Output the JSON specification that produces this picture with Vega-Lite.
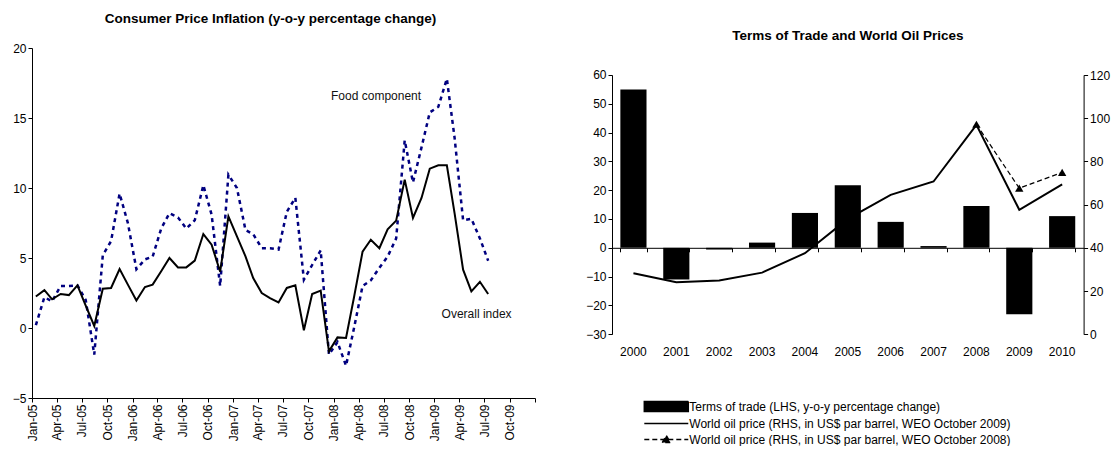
{
  "$schema": "https://vega.github.io/schema/vega-lite/v6.json",
  "padding": {"left": 12, "top": 11, "right": 5, "bottom": 0},
  "spacing": 44,
  "resolve": {"legend": {"shape": "independent", "strokeDash": "independent"}},
  "config": {
    "font": "Liberation Sans",
    "view": {"stroke": null},
    "axis": {"labelFont": "Liberation Sans", "labelFontSize": 12, "labelColor": "#000", "domainColor": "#000", "tickColor": "#000", "grid": false, "tickSize": 4, "labelPadding": 2, "domainWidth": 1, "tickWidth": 1},
    "title": {"fontSize": 13.5, "fontWeight": "bold", "color": "#000", "font": "Liberation Sans"}
  },
  "datasets": {
    "cpi": [
      {"date": "2005-01-15", "overall": 2.25, "food": 0.2},
      {"date": "2005-02-15", "overall": 2.7, "food": 2.2},
      {"date": "2005-03-15", "overall": 2.05, "food": 1.9},
      {"date": "2005-04-15", "overall": 2.43, "food": 3.0},
      {"date": "2005-05-15", "overall": 2.35, "food": 3.0},
      {"date": "2005-06-15", "overall": 3.05, "food": 3.05},
      {"date": "2005-07-15", "overall": 1.6, "food": 2.0},
      {"date": "2005-08-15", "overall": 0.15, "food": -1.9},
      {"date": "2005-09-15", "overall": 2.81, "food": 5.2},
      {"date": "2005-10-15", "overall": 2.86, "food": 6.2},
      {"date": "2005-11-15", "overall": 4.21, "food": 9.6},
      {"date": "2005-12-15", "overall": 3.1, "food": 7.5},
      {"date": "2006-01-15", "overall": 1.96, "food": 4.2},
      {"date": "2006-02-15", "overall": 2.93, "food": 4.9},
      {"date": "2006-03-15", "overall": 3.1, "food": 5.1},
      {"date": "2006-04-15", "overall": 4.05, "food": 7.1},
      {"date": "2006-05-15", "overall": 5.0, "food": 8.2},
      {"date": "2006-06-15", "overall": 4.33, "food": 7.9},
      {"date": "2006-07-15", "overall": 4.33, "food": 7.1},
      {"date": "2006-08-15", "overall": 4.81, "food": 7.7},
      {"date": "2006-09-15", "overall": 6.71, "food": 10.2},
      {"date": "2006-10-15", "overall": 5.95, "food": 8.1},
      {"date": "2006-11-15", "overall": 4.02, "food": 3.0},
      {"date": "2006-12-15", "overall": 7.98, "food": 10.95},
      {"date": "2007-01-15", "overall": 6.55, "food": 10.0},
      {"date": "2007-02-15", "overall": 5.12, "food": 7.0},
      {"date": "2007-03-15", "overall": 3.57, "food": 6.7},
      {"date": "2007-04-15", "overall": 2.5, "food": 5.7},
      {"date": "2007-05-15", "overall": 2.14, "food": 5.7},
      {"date": "2007-06-15", "overall": 1.83, "food": 5.6},
      {"date": "2007-07-15", "overall": 2.86, "food": 8.3},
      {"date": "2007-08-15", "overall": 3.05, "food": 9.3},
      {"date": "2007-09-15", "overall": -0.16, "food": 3.45},
      {"date": "2007-10-15", "overall": 2.43, "food": 4.5},
      {"date": "2007-11-15", "overall": 2.67, "food": 5.55},
      {"date": "2007-12-15", "overall": -1.67, "food": -1.9},
      {"date": "2008-01-15", "overall": -0.67, "food": -1.0},
      {"date": "2008-02-15", "overall": -0.71, "food": -2.7},
      {"date": "2008-03-15", "overall": 2.2, "food": 0.0},
      {"date": "2008-04-15", "overall": 5.45, "food": 3.0},
      {"date": "2008-05-15", "overall": 6.3, "food": 3.4},
      {"date": "2008-06-15", "overall": 5.7, "food": 4.3},
      {"date": "2008-07-15", "overall": 7.05, "food": 5.1},
      {"date": "2008-08-15", "overall": 7.67, "food": 6.4},
      {"date": "2008-09-15", "overall": 10.6, "food": 13.4},
      {"date": "2008-10-15", "overall": 7.86, "food": 10.4},
      {"date": "2008-11-15", "overall": 9.29, "food": 12.9},
      {"date": "2008-12-15", "overall": 11.38, "food": 15.4},
      {"date": "2009-01-15", "overall": 11.62, "food": 15.8},
      {"date": "2009-02-15", "overall": 11.62, "food": 17.8},
      {"date": "2009-03-15", "overall": 8.2, "food": 13.6},
      {"date": "2009-04-15", "overall": 4.17, "food": 7.7},
      {"date": "2009-05-15", "overall": 2.62, "food": 7.8},
      {"date": "2009-06-15", "overall": 3.3, "food": 6.4},
      {"date": "2009-07-15", "overall": 2.43, "food": 4.8}
    ],
    "cpiLabels": [
      {"date": "2008-06-03", "value": 16.55, "label": "Food component"},
      {"date": "2009-06-03", "value": 0.98, "label": "Overall index"}
    ],
    "tot": [
      {"year": "2000", "tot": 55.0, "oil09": 28.2, "oil08": null},
      {"year": "2001", "tot": -11.0, "oil09": 24.1, "oil08": null},
      {"year": "2002", "tot": -0.6, "oil09": 24.9, "oil08": null},
      {"year": "2003", "tot": 1.8, "oil09": 28.5, "oil08": null},
      {"year": "2004", "tot": 12.1, "oil09": 37.5, "oil08": null},
      {"year": "2005", "tot": 21.7, "oil09": 53.4, "oil08": null},
      {"year": "2006", "tot": 9.0, "oil09": 64.5, "oil08": null},
      {"year": "2007", "tot": 0.6, "oil09": 70.7, "oil08": null},
      {"year": "2008", "tot": 14.5, "oil09": 96.9, "oil08": 97.2},
      {"year": "2009", "tot": -23.1, "oil09": 57.6, "oil08": 67.6},
      {"year": "2010", "tot": 11.0, "oil09": 69.4, "oil08": 74.9}
    ],
    "legendItems": [
      {"label": "Terms of trade (LHS, y-o-y percentage change)"},
      {"label": "World oil price (RHS, in US$ par barrel, WEO October 2009)"},
      {"label": "World oil price (RHS, in US$ par barrel, WEO October 2008)"}
    ]
  },
  "hconcat": [
    {
      "width": 503,
      "height": 350,
      "title": {"text": "Consumer Price Inflation (y-o-y percentage change)", "offset": 17, "dx": -13},
      "data": {"name": "cpi"},
      "layer": [
        {
          "mark": {"type": "line", "color": "#000080", "strokeWidth": 2.5, "strokeDash": [4, 4]},
          "encoding": {
            "x": {"field": "date", "type": "temporal",
              "scale": {"type": "utc", "domain": [{"year": 2005, "month": 1, "date": 1, "utc": true}, {"year": 2010, "month": 1, "date": 1, "utc": true}]},
              "axis": {"title": null, "tickCount": {"interval": "month", "step": 3}, "labelAngle": -90, "labelAlign": "right", "labelBaseline": "middle", "labelExpr": "utcyear(datum.value) >= 2010 ? '' : utcFormat(datum.value, '%b-%y')", "labelFlush": false, "labelOverlap": false}},
            "y": {"field": "food", "type": "quantitative", "scale": {"domain": [-5, 20], "nice": false}, "axis": {"title": null, "values": [-5, 0, 5, 10, 15, 20]}}
          }
        },
        {
          "mark": {"type": "line", "color": "#000", "strokeWidth": 2},
          "encoding": {
            "x": {"field": "date", "type": "temporal"},
            "y": {"field": "overall", "type": "quantitative", "axis": {"title": null, "values": [-5, 0, 5, 10, 15, 20]}}
          }
        },
        {
          "data": {"name": "cpiLabels"},
          "mark": {"type": "text", "fontSize": 12, "align": "center", "baseline": "middle", "color": "#111"},
          "encoding": {
            "x": {"field": "date", "type": "temporal"},
            "y": {"field": "value", "type": "quantitative", "axis": {"title": null, "values": [-5, 0, 5, 10, 15, 20]}},
            "text": {"field": "label"}
          }
        }
      ]
    },
    {
      "width": 471.6,
      "height": 286.2,
      "title": {"text": "Terms of Trade and World Oil Prices", "offset": 6},
      "layer": [
        {
          "data": {"name": "tot"},
          "mark": {"type": "bar", "color": "#000"},
          "encoding": {
            "x": {"field": "year", "type": "ordinal", "scale": {"type": "band", "paddingInner": 0.39, "paddingOuter": 0.195},
              "axis": {"title": null, "orient": "bottom", "domain": false, "ticks": false, "tickSize": 0, "labelPadding": 12, "labelAngle": 0}},
            "y": {"field": "tot", "type": "quantitative", "scale": {"domain": [-30, 69.37], "nice": false},
              "axis": {"title": null, "orient": "left", "values": [-30, -20, -10, 0, 10, 20, 30, 40, 50, 60], "domainDash": [259.3, 400]}}
          }
        },
        {
          "data": {"name": "tot"},
          "layer": [
            {
              "mark": {"type": "line", "color": "#000", "strokeWidth": 2},
              "encoding": {
                "x": {"field": "year", "type": "ordinal", "axis": {"title": null, "orient": "bottom", "offset": -86.4, "labels": false, "domain": true, "ticks": true, "tickBand": "extent", "tickSize": 4}},
                "y": {"field": "oil09", "type": "quantitative", "scale": {"domain": [0, 132.5], "nice": false},
                  "axis": {"title": null, "orient": "right", "values": [0, 20, 40, 60, 80, 100, 120], "domainDash": [259.3, 400]}}
              }
            },
            {
              "transform": [{"filter": "datum.oil08 != null"}],
              "mark": {"type": "line", "color": "#000", "strokeWidth": 1.2, "strokeDash": [5, 3]},
              "encoding": {
                "x": {"field": "year", "type": "ordinal", "axis": {"title": null, "orient": "bottom", "offset": -86.4, "labels": false, "domain": true, "ticks": true, "tickBand": "extent", "tickSize": 4}},
                "y": {"field": "oil08", "type": "quantitative", "axis": {"title": null, "orient": "right", "values": [0, 20, 40, 60, 80, 100, 120], "domainDash": [259.3, 400]}}
              }
            },
            {
              "transform": [{"filter": "datum.oil08 != null"}],
              "mark": {"type": "point", "shape": "triangle-up", "filled": true, "color": "#000", "size": 70, "opacity": 1},
              "encoding": {
                "x": {"field": "year", "type": "ordinal", "axis": {"title": null, "orient": "bottom", "offset": -86.4, "labels": false, "domain": true, "ticks": true, "tickBand": "extent", "tickSize": 4}},
                "y": {"field": "oil08", "type": "quantitative", "axis": {"title": null, "orient": "right", "values": [0, 20, 40, 60, 80, 100, 120], "domainDash": [259.3, 400]}}
              }
            }
          ]
        },
        {
          "data": {"name": "legendItems"},
          "transform": [{"filter": "false"}],
          "mark": {"type": "point", "filled": true, "fill": "#000", "stroke": "#000", "strokeWidth": 1.3, "opacity": 1, "size": 121},
          "encoding": {
            "shape": {"field": "label", "type": "nominal",
              "scale": {"domain": ["Terms of trade (LHS, y-o-y percentage change)", "World oil price (RHS, in US$ par barrel, WEO October 2009)", "World oil price (RHS, in US$ par barrel, WEO October 2008)"],
                "range": ["M-4,-0.9H4V0.9H-4Z", "M-4,0H4", "M-4,0H4M-0.73,0.55L0,-0.7L0.73,0.55Z"]},
              "legend": {"orient": "none", "legendX": 47.8, "legendY": 352, "direction": "vertical", "title": null,
                "labelFontSize": 12, "labelLimit": 500, "labelOffset": 16.5, "rowPadding": 2, "padding": 0, "symbolSize": 121, "labelColor": "#000"}
            },
            "strokeDash": {"field": "label", "type": "nominal",
              "scale": {"domain": ["Terms of trade (LHS, y-o-y percentage change)", "World oil price (RHS, in US$ par barrel, WEO October 2009)", "World oil price (RHS, in US$ par barrel, WEO October 2008)"],
                "range": [[1, 0], [1, 0], [5, 3]]},
              "legend": {"orient": "none", "legendX": 47.8, "legendY": 352, "direction": "vertical", "title": null,
                "labelFontSize": 12, "labelLimit": 500, "labelOffset": 16.5, "rowPadding": 2, "padding": 0, "symbolSize": 121, "labelColor": "#000"}
            }
          }
        }
      ],
      "resolve": {"scale": {"y": "independent"}, "axis": {"x": "independent"}}
    }
  ]
}
